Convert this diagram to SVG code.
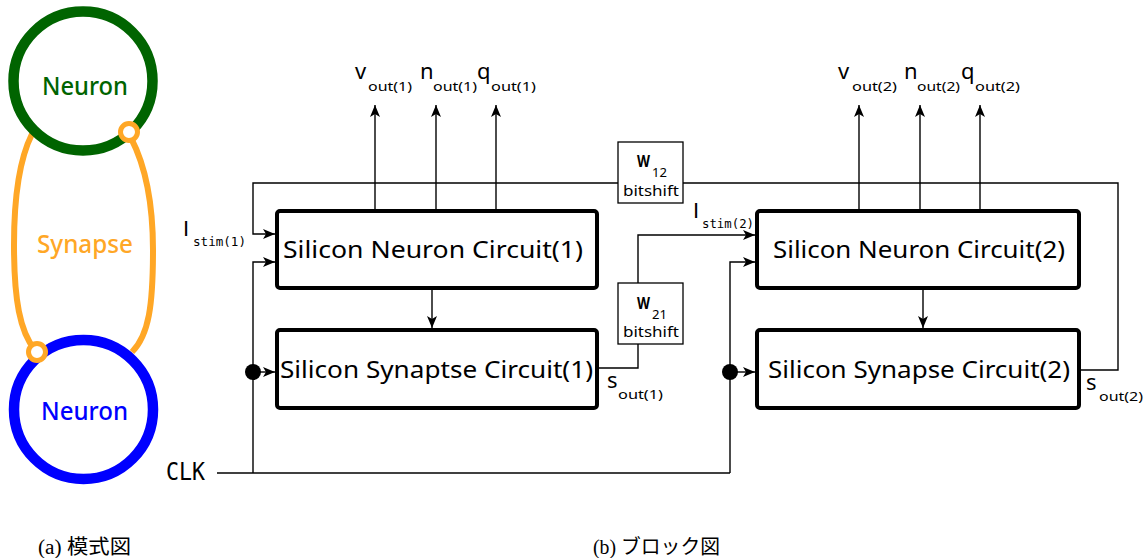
<svg xmlns="http://www.w3.org/2000/svg" width="1147" height="558" viewBox="0 0 1147 558">
<style>
.wire{fill:none;stroke:#000;stroke-width:1.4}
.arr{marker-end:url(#ah)}
.blk{fill:#fff;stroke:#000;stroke-width:4}
.wbox{fill:#fff;stroke:#000;stroke-width:1.3}
.sans{font-family:"Noto Sans","Liberation Sans",sans-serif;fill:#000}
.mono{font-family:"DejaVu Sans Mono","Liberation Mono",monospace;fill:#000}
.big{font-size:23px}
.var{font-size:22px}
.sub{font-size:13px}
.cap{font-family:"Liberation Serif","Noto Sans CJK JP",serif;font-size:20px;fill:#000}
.cjk{font-family:"Noto Sans CJK JP",sans-serif}
.bio{font-family:"Noto Sans","Liberation Sans",sans-serif;font-weight:500;font-size:25px;text-anchor:middle}
.syn{fill:none;stroke:#FFA726;stroke-width:6}
</style>
<defs>
<marker id="ah" viewBox="0 0 12 12" refX="12" refY="6" markerWidth="12" markerHeight="12" markerUnits="userSpaceOnUse" orient="auto">
<path d="M0,1 L12,6 L0,11 L3,6 z" fill="#000"/>
</marker>
</defs>

<!-- (a) schematic -->
<g id="synapse">
<path class="syn" d="M32,134 C20,158 14,195 14,245 C14,300 20,332 35,350"/>
<path class="syn" d="M131,138 C145,165 153,200 153,250 C153,305 149,335 132,352"/>
<text class="bio" x="85" y="253" fill="#FFA726" textLength="96" lengthAdjust="spacingAndGlyphs">Synapse</text>
</g>
<g id="neuron-top">
<circle cx="83" cy="81" r="69.5" fill="none" stroke="#006400" stroke-width="10.5"/>
<text class="bio" x="85" y="95" fill="#006400" textLength="86" lengthAdjust="spacingAndGlyphs">Neuron</text>
</g>
<g id="neuron-bottom">
<circle cx="83.5" cy="409.5" r="69.5" fill="none" stroke="#0000FF" stroke-width="10.5"/>
<text class="bio" x="84.5" y="420" fill="#0000FF" textLength="87" lengthAdjust="spacingAndGlyphs">Neuron</text>
</g>
<g id="syn-terminals">
<circle cx="129" cy="132" r="8.5" fill="#fff" stroke="#FFA726" stroke-width="5"/>
<circle cx="37" cy="352" r="8.5" fill="#fff" stroke="#FFA726" stroke-width="5"/>
</g>

<!-- (b) block diagram connectors -->
<g id="connectors">
<line class="wire arr" x1="375" y1="209" x2="375" y2="105"/>
<line class="wire arr" x1="436" y1="209" x2="436" y2="105"/>
<line class="wire arr" x1="496" y1="209" x2="496" y2="105"/>
<line class="wire arr" x1="859" y1="209" x2="859" y2="105"/>
<line class="wire arr" x1="920" y1="209" x2="920" y2="105"/>
<line class="wire arr" x1="980" y1="209" x2="980" y2="105"/>
<polyline class="wire arr" points="1081,370 1118,370 1118,183 253,183 253,234 275,234"/>
<polyline class="wire arr" points="599,368 638,368 638,235 755,235"/>
<line class="wire" x1="217" y1="473" x2="730" y2="473"/>
<polyline class="wire arr" points="253,473 253,262 275,262"/>
<polyline class="wire arr" points="730,473 730,262 755,262"/>
<line class="wire arr" x1="253" y1="372" x2="275" y2="372"/>
<line class="wire arr" x1="730" y1="372" x2="755" y2="372"/>
<circle cx="253" cy="372" r="8" fill="#000"/>
<circle cx="730" cy="372" r="8" fill="#000"/>
<line class="wire arr" x1="432" y1="290" x2="432" y2="328"/>
<line class="wire arr" x1="923" y1="290" x2="923" y2="328"/>
</g>

<g id="neuron1">
<rect class="blk" x="277" y="211" width="320" height="77" rx="3"/>
<text class="sans big" x="283" y="258" textLength="300" lengthAdjust="spacingAndGlyphs">Silicon Neuron Circuit(1)</text>
</g>
<g id="synapse1">
<rect class="blk" x="277" y="330" width="320" height="78" rx="3"/>
<text class="sans big" x="280" y="378" textLength="313" lengthAdjust="spacingAndGlyphs">Silicon Synaptse Circuit(1)</text>
</g>
<g id="neuron2">
<rect class="blk" x="757" y="211" width="322" height="77" rx="3"/>
<text class="sans big" x="773" y="258" textLength="292" lengthAdjust="spacingAndGlyphs">Silicon Neuron Circuit(2)</text>
</g>
<g id="synapse2">
<rect class="blk" x="757" y="330" width="322" height="78" rx="3"/>
<text class="sans big" x="768" y="378" textLength="302" lengthAdjust="spacingAndGlyphs">Silicon Synapse Circuit(2)</text>
</g>
<g id="w12">
<rect class="wbox" x="618" y="142" width="65" height="61"/>
<text class="sans" x="637" y="167" font-size="16" font-weight="bold" textLength="13" lengthAdjust="spacingAndGlyphs">W</text>
<text class="sans" x="652" y="177" font-size="12" textLength="15" lengthAdjust="spacingAndGlyphs">12</text>
<text class="sans" x="623" y="196" font-size="15" textLength="56" lengthAdjust="spacingAndGlyphs">bitshift</text>
</g>
<g id="w21">
<rect class="wbox" x="618" y="283" width="65" height="61"/>
<text class="sans" x="637" y="309" font-size="16" font-weight="bold" textLength="13" lengthAdjust="spacingAndGlyphs">W</text>
<text class="sans" x="652" y="319" font-size="12" textLength="15" lengthAdjust="spacingAndGlyphs">21</text>
<text class="sans" x="623" y="337" font-size="15" textLength="56" lengthAdjust="spacingAndGlyphs">bitshift</text>
</g>

<g id="labels">
<text class="sans var" x="355" y="79">v</text><text class="sans sub" x="368" y="91" textLength="44" lengthAdjust="spacingAndGlyphs">out(1)</text>
<text class="sans var" x="420" y="79">n</text><text class="sans sub" x="433" y="91" textLength="44" lengthAdjust="spacingAndGlyphs">out(1)</text>
<text class="sans var" x="477" y="79">q</text><text class="sans sub" x="491" y="91" textLength="45" lengthAdjust="spacingAndGlyphs">out(1)</text>
<text class="sans var" x="838" y="79">v</text><text class="sans sub" x="852" y="91" textLength="45" lengthAdjust="spacingAndGlyphs">out(2)</text>
<text class="sans var" x="904" y="79">n</text><text class="sans sub" x="917" y="91" textLength="43" lengthAdjust="spacingAndGlyphs">out(2)</text>
<text class="sans var" x="961" y="79">q</text><text class="sans sub" x="975" y="91" textLength="45" lengthAdjust="spacingAndGlyphs">out(2)</text>
<text x="183" y="236" font-family="Liberation Sans, sans-serif" font-size="22">I</text><text class="mono sub" x="193" y="246" textLength="53" lengthAdjust="spacingAndGlyphs">stim(1)</text>
<text x="693" y="218" font-family="Liberation Sans, sans-serif" font-size="22">I</text><text class="mono sub" x="702" y="228" textLength="52" lengthAdjust="spacingAndGlyphs">stim(2)</text>
<text class="sans var" x="607" y="388">s</text><text class="sans sub" x="618" y="399" textLength="45" lengthAdjust="spacingAndGlyphs">out(1)</text>
<text class="sans var" x="1086" y="390">s</text><text class="sans sub" x="1099" y="401" textLength="44" lengthAdjust="spacingAndGlyphs">out(2)</text>
<text class="mono" x="166" y="480" font-size="24" textLength="39" lengthAdjust="spacingAndGlyphs">CLK</text>
</g>

<g id="captions">
<text class="cap" x="38" y="554" textLength="93" lengthAdjust="spacingAndGlyphs">(a) <tspan class="cjk">模式図</tspan></text>
<text class="cap" x="593" y="554" textLength="127" lengthAdjust="spacingAndGlyphs">(b) <tspan class="cjk">ブロック図</tspan></text>
</g>
</svg>
